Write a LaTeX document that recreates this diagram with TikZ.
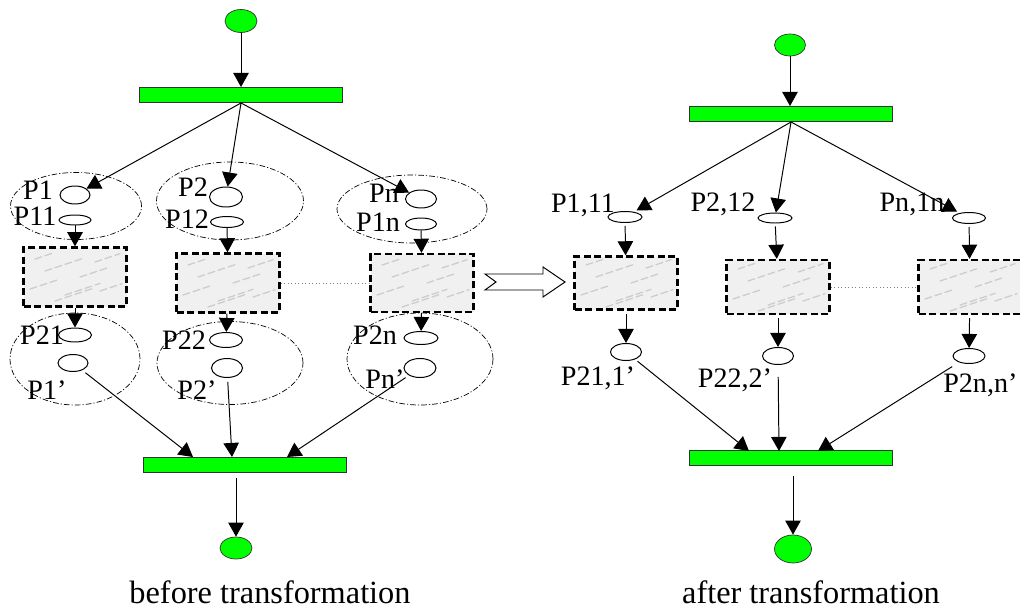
\documentclass[tikz,border=0pt]{standalone}
\usepackage{fontspec}
\setmainfont{Liberation Serif}
\usetikzlibrary{shapes.geometric,arrows.meta}
\newcommand{\pxl}{0.025cm}
\tikzset{
  place/.style = {ellipse,draw=black,fill=white,line width=0.7pt,inner sep=0pt},
  token/.style = {ellipse,draw=black!80,fill=green,line width=0.5pt,inner sep=0pt},
  bar/.style = {rectangle,draw=black!80,fill=green,line width=0.7pt,inner sep=0pt,minimum width=203*\pxl,minimum height=15*\pxl},
  group/.style = {ellipse,draw=black,line width=0.5pt,dash pattern=on 4pt off 1.5pt on 0.8pt off 1.5pt,inner sep=0pt},
  marble/.style = {rectangle,draw=black,line width=1.7pt,dash pattern=on 5pt off 2.5pt,fill=gray!12,inner sep=0pt,
    minimum width=103*\pxl,minimum height=55*\pxl,
    path picture={
      \foreach \dx/\dy/\l in {-45/12/30,-30/-6/40,-10/18/35,5/0/30,20/-15/25,-40/-18/20,25/14/22,-20/24/40}
        \draw[gray!40,line width=0.9pt,line cap=round] ([shift={(\dx,\dy)}]path picture bounding box.center) -- ++(\l,-\l/3);
    }},
  lbl/.style = {font=\fontsize{20}{20}\selectfont,inner sep=0pt},
  caption/.style = {font=\fontsize{23}{23}\selectfont,inner sep=0pt},
  edge/.style = {-{Triangle[length=10pt,width=11pt]},line width=0.7pt,black},
  link/.style = {dotted,line width=0.5pt,gray},
}
\begin{document}
\begin{tikzpicture}[x=\pxl,y=-\pxl]
    \useasboundingbox (0,0) rectangle (1020,611);

    % before transformation
    \node[group,minimum width=131*\pxl,minimum height=67*\pxl] at (76,206) (g1a) {};
    \node[group,minimum width=130*\pxl,minimum height=92*\pxl] at (75,359) (g1b) {};
    \node[group,minimum width=147*\pxl,minimum height=78*\pxl] at (230,201) (g2a) {};
    \node[group,minimum width=146*\pxl,minimum height=83*\pxl] at (230,363) (g2b) {};
    \node[group,minimum width=150*\pxl,minimum height=68*\pxl] at (412,209) (gna) {};
    \node[group,minimum width=146*\pxl,minimum height=92*\pxl] at (420,359) (gnb) {};

    \node[token,minimum width=32*\pxl,minimum height=23*\pxl] at (241,21) (srcL) {};
    \node[bar] at (241,95) (tbL) {};
    \node[bar] at (245,465) (bbL) {};
    \node[token,minimum width=32*\pxl,minimum height=22*\pxl] at (236,548) (sinkL) {};

    \node[place,minimum width=30*\pxl,minimum height=18*\pxl] at (75,195) (p1) {};
    \node[place,minimum width=32*\pxl,minimum height=10*\pxl] at (75,220) (p11) {};
    \node[place,minimum width=33*\pxl,minimum height=14*\pxl] at (75,335) (p21) {};
    \node[place,minimum width=30*\pxl,minimum height=17*\pxl] at (73,363) (p1q) {};
    \node[place,minimum width=33*\pxl,minimum height=20*\pxl] at (226,197) (p2) {};
    \node[place,minimum width=33*\pxl,minimum height=11*\pxl] at (227,222) (p12) {};
    \node[place,minimum width=33*\pxl,minimum height=15*\pxl] at (226,340) (p22) {};
    \node[place,minimum width=31*\pxl,minimum height=19*\pxl] at (227,368) (p2q) {};
    \node[place,minimum width=31*\pxl,minimum height=18*\pxl] at (421,199) (pn) {};
    \node[place,minimum width=31*\pxl,minimum height=12*\pxl] at (421,224) (p1n) {};
    \node[place,minimum width=34*\pxl,minimum height=13*\pxl] at (421,338) (p2n) {};
    \node[place,minimum width=32*\pxl,minimum height=19*\pxl] at (420,368) (pnq) {};

    \node[marble,minimum height=59*\pxl] at (75,277) (b1) {};
    \node[marble,minimum height=59*\pxl] at (228,283) (b2) {};
    \node[marble,minimum height=58*\pxl] at (422,283) (b3) {};

    \node[lbl] at (38,190) (l1) {P1};
    \node[lbl] at (35,216) (l11) {P11};
    \node[lbl] at (42,335) (l21) {P21};
    \node[lbl] at (47,390) (l1q) {P1'};
    \node[lbl] at (193,187) (l2) {P2};
    \node[lbl] at (187,219) (l12) {P12};
    \node[lbl] at (184,340) (l22) {P22};
    \node[lbl] at (197,390) (l2q) {P2'};
    \node[lbl] at (384,193) (ln) {Pn};
    \node[lbl] at (378,222) (l1n) {P1n};
    \node[lbl] at (375,335) (l2n) {P2n};
    \node[lbl] at (385,379) (lnq) {Pn'};

    \coordinate (inL1) at (193,457);
    \coordinate (inL2) at (232,457);
    \coordinate (inL3) at (287,457);

    \draw[edge] (srcL) -- (srcL |- tbL.north);
    \draw[edge] (tbL.south) -- (p1);
    \draw[edge] (tbL.south) -- (p2);
    \draw[edge] (tbL.south) -- (pn);
    \draw[edge] (p11) -- (b1);
    \draw[edge] (p12) -- (b2);
    \draw[edge] (p1n) -- (b3);
    \draw[edge] (b1) -- (p21);
    \draw[edge] (b2) -- (p22);
    \draw[edge] (b3) -- (p2n);
    \draw[link] (b2) -- (b3);
    \draw[edge,shorten <=4*\pxl] (p1q) -- (inL1);
    \draw[edge,shorten <=4*\pxl] (p2q) -- (inL2);
    \draw[edge,shorten <=4*\pxl] (pnq) -- (inL3);
    \draw[edge,shorten <=5*\pxl] (sinkL |- bbL.south) -- (sinkL);

    % transformation arrow
    \draw[line width=0.7pt,fill=white] (485,274) -- (543,274) -- (543,267) -- (565,282)
      -- (543,297) -- (543,290) -- (485,290) -- (496,282) -- cycle;

    % after transformation
    \node[token,minimum width=31*\pxl,minimum height=22*\pxl] at (790,45) (srcR) {};
    \node[bar] at (791,114) (tbR) {};
    \node[bar] at (791,458) (bbR) {};
    \node[token,minimum width=37*\pxl,minimum height=28*\pxl] at (793,549) (sinkR) {};

    \node[place,minimum width=34*\pxl,minimum height=11*\pxl] at (625,217) (q1) {};
    \node[place,minimum width=34*\pxl,minimum height=10*\pxl] at (775,218) (q2) {};
    \node[place,minimum width=33*\pxl,minimum height=11*\pxl] at (969,218) (qn) {};
    \node[place,minimum width=31*\pxl,minimum height=17*\pxl] at (626,352) (q21) {};
    \node[place,minimum width=31*\pxl,minimum height=17*\pxl] at (778,356) (q22) {};
    \node[place,minimum width=32*\pxl,minimum height=15*\pxl] at (969,356) (q2n) {};

    \node[marble,minimum height=53*\pxl] at (626,283) (r1) {};
    \node[marble,minimum height=54*\pxl] at (778,287) (r2) {};
    \node[marble,minimum height=54*\pxl] at (970,287) (r3) {};

    \node[lbl] at (583,205) (m1) {P1,11};
    \node[lbl] at (723,204) (m2) {P2,12};
    \node[lbl] at (912,204) (mn) {Pn,1n};
    \node[lbl] at (598,378) (m21) {P21,1'};
    \node[lbl] at (735,380) (m22) {P22,2'};
    \node[lbl,anchor=west] at (943,385) (m2n) {P2n,n'};

    \coordinate (inR1) at (749,451);
    \coordinate (inR2) at (779,451);
    \coordinate (inR3) at (818,451);

    \draw[edge] (srcR) -- (srcR |- tbR.north);
    \draw[edge,shorten >=3*\pxl] (tbR.south) -- (q1);
    \draw[edge] (tbR.south) -- (q2);
    \draw[edge,shorten >=3*\pxl] (tbR.south) -- (qn);
    \draw[edge,shorten <=3*\pxl] (q1) -- (r1);
    \draw[edge,shorten <=3*\pxl] (q2) -- (r2);
    \draw[edge,shorten <=3*\pxl] (qn) -- (r3);
    \draw[edge,shorten <=3*\pxl] (r1) -- (q21);
    \draw[edge,shorten <=3*\pxl] (r2) -- (q22);
    \draw[edge,shorten <=3*\pxl] (r3) -- (q2n);
    \draw[link] (r2) -- (r3);
    \draw[edge,shorten <=3*\pxl] (q21) -- (inR1);
    \draw[edge,shorten <=12*\pxl] (q22) -- (inR2);
    \draw[edge,shorten <=8*\pxl] (q2n) -- (inR3);
    \draw[edge,shorten <=10*\pxl] (sinkR |- bbR.south) -- (sinkR);

    \node[caption] at (270,592) (capL) {before transformation};
    \node[caption] at (811,592) (capR) {after transformation};
\end{tikzpicture}
\end{document}
